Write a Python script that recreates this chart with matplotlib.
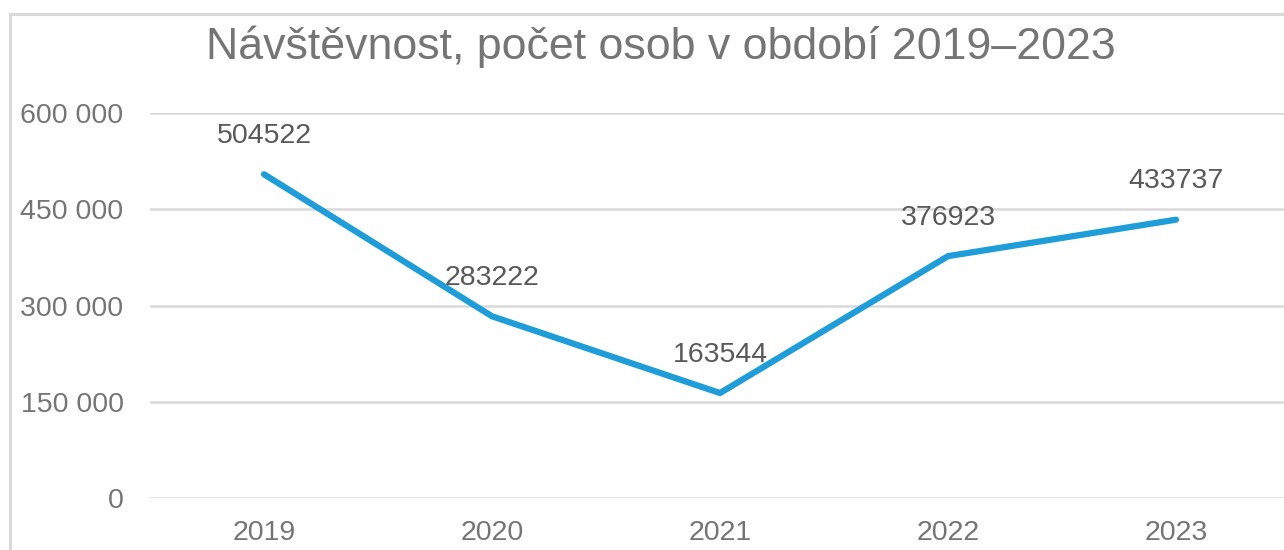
import matplotlib
matplotlib.use("Agg")
import matplotlib.pyplot as plt
from matplotlib.patches import Rectangle
from matplotlib.ticker import FuncFormatter

years = ["2019", "2020", "2021", "2022", "2023"]
visitors = [504522, 283222, 163544, 376923, 433737]
yticks = [0, 150000, 300000, 450000, 600000]
title = "Návštěvnost, počet osob v období 2019–2023"

W, H = 1284, 550
fig = plt.figure(figsize=(W / 100, H / 100), dpi=100)
plt.rcParams['font.family'] = ['Liberation Sans', 'DejaVu Sans']

# outer frame (chart area border)
fig.patches.append(Rectangle((10 / W, -0.1), 1.2, (550 - 14) / H + 0.1,
                             transform=fig.transFigure, fill=False,
                             edgecolor='#D9D9D9', linewidth=2.2, zorder=0))

ax = fig.add_axes([150 / W, (550 - 498) / H, (W - 150) / W, 385 / H])
x = list(range(len(years)))
ax.plot(x, visitors, color='#1F9DD9', linewidth=4.5, solid_capstyle='round',
        solid_joinstyle='round', zorder=3)
for xi, v in zip(x, visitors):
    ax.annotate(str(v), (xi, v), xytext=(0, 27.5), textcoords='offset points',
                ha='center', va='center', fontsize=20.5, color='#595959')

ax.set_ylim(0, 600000)
ax.set_xlim(-0.5, 4.5 - 6 / 228)
ax.set_yticks(yticks)
ax.yaxis.set_major_formatter(FuncFormatter(lambda v, p: f"{int(v):,}".replace(",", " ")))
ax.set_xticks(x)
ax.set_xticklabels(years)
ax.tick_params(axis='both', length=0, labelsize=20.5, labelcolor='#757575')
ax.tick_params(axis='y', pad=19)
ax.tick_params(axis='x', pad=16)
ax.grid(axis='y', color='#D9D9D9', linewidth=1.8)
ax.set_axisbelow(True)
for s in ax.spines.values():
    s.set_visible(False)

fig.text(661 / W, 1 - 47 / H, title, ha='center', va='center',
         fontsize=32.2, color='#757575')

fig.savefig("out.png", dpi=100)
